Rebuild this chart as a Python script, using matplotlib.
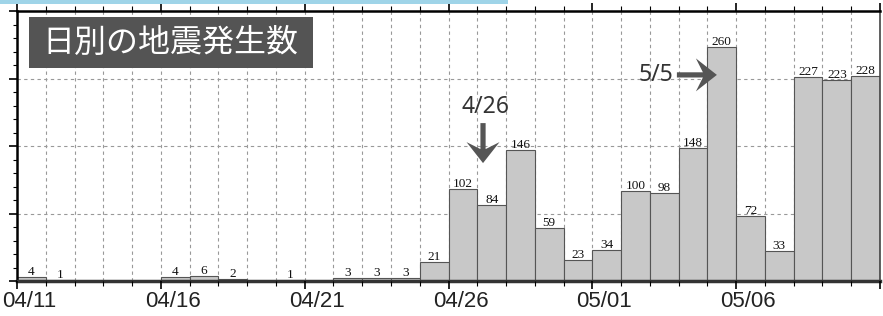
import matplotlib
matplotlib.use("Agg")
import matplotlib.pyplot as plt
from matplotlib.patches import Rectangle, Polygon
from matplotlib.transforms import ScaledTranslation
import numpy as np

# ---- data ----
dates = ["04/11","04/12","04/13","04/14","04/15","04/16","04/17","04/18","04/19","04/20",
         "04/21","04/22","04/23","04/24","04/25","04/26","04/27","04/28","04/29","04/30",
         "05/01","05/02","05/03","05/04","05/05","05/06","05/07","05/08","05/09","05/10"]
counts = [4, 1, 0, 0, 0, 4, 6, 2, 0, 1,
          0, 3, 3, 3, 21, 102, 84, 146, 59, 23,
          34, 100, 98, 148, 260, 72, 33, 227, 223, 228]
tick_dates = ["04/11", "04/16", "04/21", "04/26", "05/01", "05/06"]
title = "日別の地震発生数"
notes = [("4/26", "04/27"), ("5/5", "05/05")]

W, H, DPI = 883, 316, 100
fig = plt.figure(figsize=(W / DPI, H / DPI), dpi=DPI)
fig.patch.set_facecolor("white")

L, R, T, B = 17, 880, 11, 281
ax = fig.add_axes([L / W, 1 - B / H, (R - L) / W, (B - T) / H])

x = np.arange(len(dates))
ax.bar(x, counts, width=1.0, align="edge", color="#c8c8c8",
       edgecolor="#555555", linewidth=0.8, zorder=2)

for xi, c in zip(x, counts):
    if c > 0:
        ax.text(xi + 0.5, c - 1, str(c), ha="center", va="bottom",
                fontsize=9.5, family="Liberation Serif", color="#111111", zorder=4)

ax.set_xlim(0, len(dates))
ax.set_ylim(0, 300)

# grid
for xi in range(1, len(dates)):
    ax.axvline(xi, color="#999999", lw=0.8, ls=(0, (3, 3)), zorder=1)
for yv in (75, 150, 225):
    ax.axhline(yv, color="#999999", lw=0.8, ls=(0, (3, 3)), zorder=1)

# ticks
tick_pos = [dates.index(d) for d in tick_dates]
ax.set_xticks(tick_pos + [len(dates)])
ax.set_xticklabels(tick_dates + [""])
ax.set_xticks(x, minor=True)
ax.tick_params(axis="x", which="major", length=6, width=1.2, direction="out",
               top=True, labelsize=16, pad=1, labelcolor="#222222")
ax.tick_params(axis="x", which="minor", length=3.5, width=0.8, direction="out", top=True)
for lab in ax.get_xticklabels():
    lab.set_family("Liberation Sans")
    lab.set_transform(lab.get_transform() + ScaledTranslation(12 / DPI, 0, fig.dpi_scale_trans))

ax.set_yticks([0, 75, 150, 225, 300])
ax.set_yticks(np.arange(0, 301, 15), minor=True)
ax.set_yticklabels([])
ax.tick_params(axis="y", which="major", length=6, width=1.2, direction="out")
ax.tick_params(axis="y", which="minor", length=3, width=0.8, direction="out")

for s in ("left", "top"):
    ax.spines[s].set_linewidth(1.8)
ax.spines["bottom"].set_linewidth(2.5)
ax.spines["bottom"].set_color("#333333")
ax.spines["right"].set_linewidth(1.2)
ax.spines["right"].set_color("#444444")
ax.set_axisbelow(False)

# light blue strip at top
fig.patches.append(Rectangle((0, 1 - 4 / H), 508 / W, 4 / H, transform=fig.transFigure,
                             facecolor="#9fd4e8", edgecolor="none", zorder=5))

# title box
fig.patches.append(Rectangle((29 / W, 1 - 68 / H), (313 - 29) / W, (68 - 17) / H,
                             transform=fig.transFigure, facecolor="#545454",
                             edgecolor="none", zorder=5))
fig.text(170 / W, 1 - 43 / H, title, ha="center", va="center", fontsize=23,
         color="white", family=["Noto Sans CJK JP", "DejaVu Sans"], zorder=6)

ARROW_C = "#555555"
ARROW_RIGHT = [(0, 0), (-21, 16.5), (-14, 2.6), (-40, 2.6), (-40, -2.6), (-14, -2.6), (-21, -16.5)]


def draw_arrow(xd, yd, direction):
    """Filled arrow whose tip sits at data point (xd, yd); outline given in pixels."""
    shape = ARROW_RIGHT
    if direction == "down":
        shape = [(-py, -px) for px, py in ARROW_RIGHT]
    anchor = ax.transData.transform((xd, yd))
    pts_disp = [(anchor[0] + a, anchor[1] + b) for a, b in shape]
    pts_data = ax.transData.inverted().transform(pts_disp)
    ax.add_patch(Polygon(pts_data, closed=True, facecolor=ARROW_C, edgecolor="none",
                         zorder=6, clip_on=False))


i1 = dates.index(notes[0][1])
draw_arrow(i1 + 0.2, 131, "down")
ax.text(i1 + 0.3, 193, notes[0][0], ha="center", va="center", fontsize=16.5,
        family="Noto Sans", color="#333333", zorder=6)

i2 = dates.index(notes[1][1])
draw_arrow(i2 + 0.33, 229, "right")
ax.text(i2 - 1.8, 229, notes[1][0], ha="center", va="center", fontsize=16.5,
        family="Noto Sans", color="#333333", zorder=6)

fig.savefig("out.png", dpi=DPI, facecolor="white")
